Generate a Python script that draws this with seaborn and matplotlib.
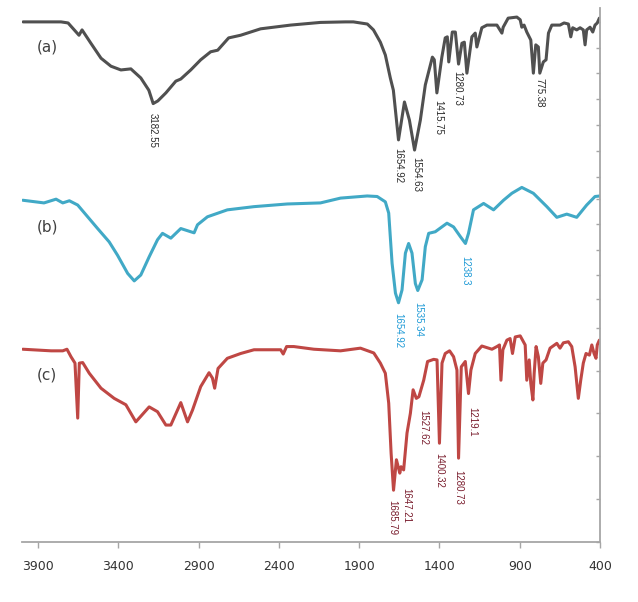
import numpy as np
import pandas as pd
import matplotlib.pyplot as plt
import seaborn as sns

# FTIR spectra, offset transmittance (a.u.)
wn_a = [3993, 3757, 3713, 3645, 3626, 3571, 3508, 3446, 3384, 3322, 3260, 3210, 3183, 3154,
        3104, 3042, 3011, 2949, 2887, 2825, 2781, 2713, 2638, 2514, 2327, 2141, 1985, 1936,
        1849, 1811, 1768, 1737, 1706, 1687, 1655, 1618, 1587, 1555, 1519, 1488, 1444, 1432,
        1416, 1385, 1364, 1351, 1342, 1320, 1301, 1281, 1260, 1245, 1229, 1198, 1177, 1167,
        1136, 1104, 1042, 1011, 1003, 972, 918, 897, 887, 873, 856, 831, 815, 800, 784, 775,
        753, 736, 721, 700, 649, 624, 597, 582, 570, 545, 524, 504, 493, 483, 462, 445, 431,
        417, 404]
t_a = [97.4, 97.4, 97.2, 94.9, 95.9, 93.4, 90.6, 89.1, 88.4, 88.6, 86.9, 84.6, 82.1, 82.6,
       84.1, 86.3, 86.7, 88.4, 90.3, 91.8, 92.1, 94.4, 94.9, 96.1, 96.8, 97.3, 97.4, 97.4,
       97.0, 95.9, 93.6, 91.2, 86.9, 84.6, 75.3, 82.4, 79.0, 73.4, 79.0, 85.6, 90.8, 90.3,
       84.1, 90.8, 94.4, 94.6, 89.9, 95.5, 95.5, 89.5, 93.4, 93.6, 87.8, 94.6, 95.3, 92.7,
       96.3, 96.8, 96.8, 95.3, 96.4, 98.1, 98.3, 97.8, 96.4, 96.8, 95.5, 94.0, 87.8, 93.1,
       92.7, 87.8, 89.9, 90.3, 95.3, 96.8, 96.8, 97.2, 97.0, 94.6, 96.3, 95.9, 96.3, 95.9,
       93.1, 95.9, 96.4, 95.5, 96.8, 97.2, 98.1]

wn_b = [3995, 3863, 3788, 3746, 3705, 3653, 3591, 3529, 3457, 3405, 3342, 3301, 3260, 3208,
        3156, 3125, 3073, 3011, 2949, 2928, 2907, 2845, 2721, 2555, 2348, 2141, 2016, 1850,
        1788, 1737, 1716, 1695, 1674, 1655, 1633, 1612, 1592, 1571, 1550, 1535, 1508, 1488,
        1467, 1426, 1353, 1312, 1270, 1238, 1219, 1188, 1125, 1063, 1001, 949, 887, 815,
        731, 669, 607, 545, 483, 431, 400]
t_b = [64.0, 63.5, 64.2, 63.5, 63.9, 63.1, 60.9, 58.7, 56.2, 53.7, 50.3, 48.9, 50.0, 53.4,
       56.6, 57.8, 56.9, 58.7, 58.1, 57.9, 59.4, 60.9, 62.2, 62.8, 63.3, 63.5, 64.4, 64.8,
       64.7, 63.7, 61.6, 52.2, 46.6, 44.8, 47.2, 54.1, 55.9, 54.1, 48.4, 47.1, 49.1, 55.3,
       57.8, 58.1, 59.7, 59.0, 57.2, 55.9, 57.8, 62.2, 63.4, 62.2, 64.0, 65.3, 66.4, 65.3,
       62.8, 60.8, 61.4, 60.8, 63.1, 64.7, 64.8]

wn_c = [3995, 3819, 3746, 3720, 3695, 3670, 3653, 3643, 3622, 3581, 3508, 3426, 3353, 3291,
        3208, 3156, 3104, 3073, 3011, 2969, 2938, 2887, 2835, 2814, 2800, 2779, 2721, 2638,
        2555, 2389, 2373, 2352, 2307, 2182, 2016, 1892, 1809, 1768, 1737, 1716, 1701, 1686,
        1668, 1647, 1639, 1623, 1602, 1581, 1564, 1544, 1528, 1498, 1474, 1436, 1415, 1400,
        1384, 1364, 1337, 1312, 1291, 1281, 1264, 1239, 1219, 1204, 1177, 1136, 1073, 1042,
        1026, 1017, 1005, 980, 960, 945, 928, 897, 866, 856, 841, 831, 818, 810, 798, 784,
        769, 756, 736, 711, 669, 649, 628, 597, 576, 555, 535, 520, 504, 487, 466, 451, 437,
        425, 417, 404]
t_c = [36.1, 35.8, 35.8, 36.1, 34.7, 33.5, 23.2, 33.5, 33.6, 31.6, 28.8, 26.9, 25.7, 22.5,
       25.3, 24.4, 21.9, 21.9, 26.1, 22.5, 24.7, 29.1, 31.7, 30.7, 28.8, 32.5, 34.4, 35.3,
       36.0, 36.0, 35.2, 36.6, 36.6, 36.1, 35.8, 36.3, 35.4, 33.5, 31.6, 26.0, 16.6, 9.7,
       15.4, 12.9, 14.1, 13.5, 20.4, 24.1, 28.5, 26.9, 27.2, 30.3, 33.8, 34.2, 34.1, 18.5,
       33.5, 35.3, 35.8, 34.7, 32.2, 15.7, 32.8, 33.8, 27.8, 32.2, 35.3, 36.7, 36.1, 36.6,
       36.9, 30.3, 36.0, 37.8, 38.1, 35.3, 38.4, 38.6, 36.9, 30.3, 34.1, 29.7, 26.6, 31.6,
       36.6, 34.7, 29.7, 33.5, 34.1, 36.3, 37.2, 36.3, 37.3, 37.5, 36.6, 32.8, 26.9, 30.3,
       33.5, 35.3, 35.0, 36.9, 35.3, 34.4, 36.9, 37.8]

# peak labels: text, wavenumber of label, top of label
peaks_a = [("3182.55", 3183, 80.3), ("1654.92", 1655, 73.8), ("1554.63", 1545, 72.1),
           ("1415.75", 1408, 82.8), ("1280.73", 1290, 88.2), ("775.38", 775, 86.9)]
peaks_b = [("1654.92", 1655, 42.8), ("1535.34", 1532, 45.0), ("1238.3", 1238, 53.6)]
peaks_c = [("1685.79", 1693, 7.9), ("1647.21", 1606, 10.1), ("1527.62", 1500, 24.7),
           ("1400.32", 1400, 16.7), ("1280.73", 1281, 13.5), ("1219.1", 1198, 25.3)]

panel_labels = ["(a)", "(b)", "(c)"]
panel_y = [92.7, 59.0, 31.3]
x_ticks = [3900, 3400, 2900, 2400, 1900, 1400, 900, 400]
y_ticks = [0, 8.1, 16.1, 24.2, 32.1, 40.0, 45.5, 50.0, 54.7, 59.5, 64.2, 68.4, 73.3, 78.1,
           83.0, 87.8, 92.6, 97.4]

sns.set_style("white")
plt.rcParams['font.family'] = ['DejaVu Sans']

fig = plt.figure(figsize=(6.38, 6.02), dpi=100)
ax = fig.add_axes([22 / 638, 60 / 602, 578 / 638, 534 / 602])

series = [(wn_a, t_a, "#505050", peaks_a, "#2a2a2a"),
          (wn_b, t_b, "#41a9c6", peaks_b, "#1e9ad6"),
          (wn_c, t_c, "#bf4744", peaks_c, "#7a1e2e")]

for wn, t, col, peaks, tcol in series:
    df = pd.DataFrame({"wn": wn, "t": t})
    sns.lineplot(data=df, x="wn", y="t", color=col, linewidth=2.2, estimator=None,
                 sort=False, ax=ax)
    for txt, x, y in peaks:
        ax.text(x, y, txt, rotation=-90, ha="center", va="top", fontsize=7,
                family="Liberation Sans", color=tcol)

for lab, y in zip(panel_labels, panel_y):
    ax.text(3844, y, lab, ha="center", va="center", fontsize=11, color="#404040")

ax.set_xlim(4000, 400)
ax.set_ylim(0, 100)
ax.set_xticks(x_ticks)
ax.set_xticklabels([str(v) for v in x_ticks])
ax.set_yticks(y_ticks)
ax.set_yticklabels([])
ax.set_xlabel("")
ax.set_ylabel("")

for side in ["left", "top"]:
    ax.spines[side].set_visible(False)
for side in ["bottom", "right"]:
    ax.spines[side].set_color("#a6a6a6")
    ax.spines[side].set_linewidth(1.3)

ax.tick_params(axis="x", direction="out", length=4, width=1, color="#a6a6a6",
               labelsize=9, labelcolor="#333333", pad=9, bottom=True)
ax.tick_params(axis="y", direction="in", length=3, width=1, color="#a6a6a6",
               left=False, right=True, labelleft=False)

fig.savefig("out.png", dpi=100)
